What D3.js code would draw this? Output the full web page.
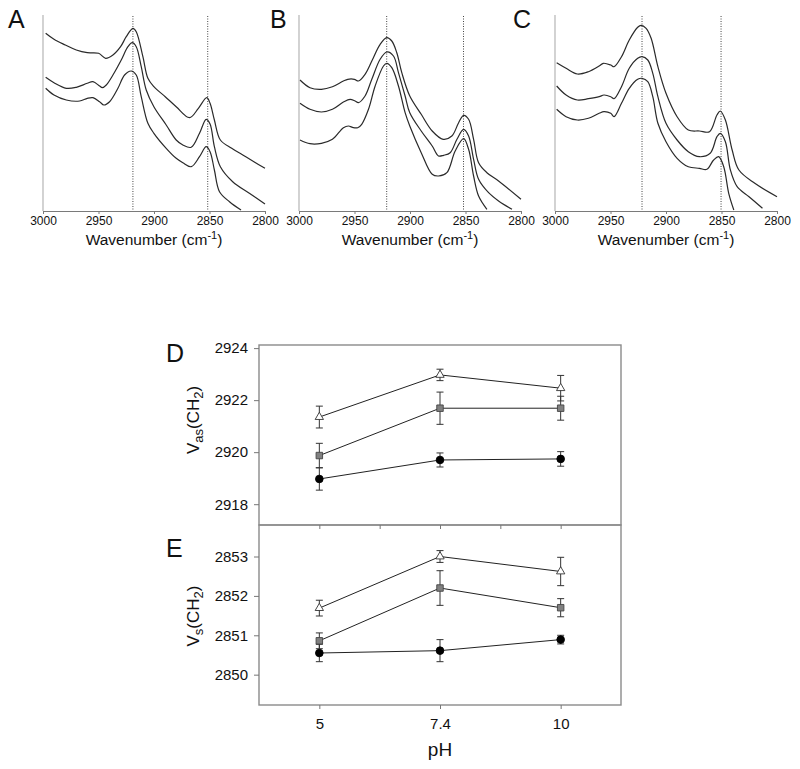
<!DOCTYPE html>
<html><head><meta charset="utf-8">
<script src="https://cdn.jsdelivr.net/npm/d3@7"></script>
<style>
body{margin:0;background:#fff}
svg{display:block}
text{font-family:"Liberation Sans",Arial,sans-serif;fill:#111}
</style>
</head><body>
<svg id="c" width="800" height="769"></svg>
<script>
// ---------- DATA ----------
const panelLetters = ["A", "B", "C"];
const wnTicks = [3000, 2950, 2900, 2850, 2800];

// IR spectra: [wavenumber (cm-1), absorbance (a.u.)]
const specA1 = [[2997.6,177.7],[2990.1,171.7],[2979.9,166],[2970,161],[2960.1,158.3],[2949.9,157.7],[2943.6,152.7],[2937,156],[2930.1,164.3],[2925,174.3],[2919,182.7],[2916,179.3],[2910,154.3],[2905.5,132.7],[2900.1,124.3],[2889.9,114.3],[2880,104.3],[2868,93.3],[2860,102.7],[2852.5,113.3],[2849.5,107.7],[2845.6,91],[2840.2,71],[2830,62.7],[2820,56],[2810,49.3],[2800,42.7]];
const specA2 = [[2997.6,133.7],[2990.1,128.3],[2979,122.7],[2970,123.7],[2960.1,127.7],[2955,129.3],[2949,125],[2946.6,123.3],[2943,126],[2937,136],[2929.5,151],[2923.5,164.3],[2919.6,168.3],[2916,164.3],[2911.5,144.3],[2907,121],[2900.1,104.3],[2889,86],[2880,71],[2874,66],[2866.5,63.7],[2859,77.7],[2853,91.7],[2849.5,87],[2845.6,64.3],[2840.2,44.3],[2829.1,29.3],[2814.1,17.7],[2800,7]];
const specA3 = [[2997.6,122.7],[2990.1,116],[2979,111],[2967,110],[2960.1,112.7],[2955,113.3],[2949,109.3],[2945.1,106],[2940,109.3],[2932.5,122.7],[2926.5,136],[2920.5,140],[2916,136],[2911.5,114.3],[2905.5,87.7],[2900.1,77.7],[2889,62.7],[2880,52.7],[2874,48.3],[2866.5,44.3],[2859,54.3],[2853,64.3],[2849.5,59.3],[2845.6,41],[2841,19.3],[2832,9.3],[2821.6,1]];

const specB1 = [[2999.1,131],[2990.1,123.3],[2979.8,121.7],[2969.9,124.3],[2960,130],[2956.1,131.7],[2950.1,131.7],[2946.5,130],[2940.5,136.7],[2934.4,150],[2926.9,166.7],[2920.9,173.3],[2916.4,170],[2911.9,158.3],[2907.4,138.3],[2900.2,115],[2889.9,96.7],[2880,80],[2870.1,71.7],[2862.3,75],[2856.2,88.3],[2851.7,95.7],[2847.2,91.7],[2842.7,71.7],[2838.2,48.3],[2830.7,38.3],[2820.2,30],[2800,11.7]];
const specB2 = [[2999.1,107.7],[2990.1,101.7],[2979.8,99],[2969.9,101.7],[2960,109],[2954,111.7],[2949.5,110],[2946.5,108.3],[2940.5,115],[2934.4,131.7],[2926.9,151.7],[2920.9,159],[2914.9,155],[2910.4,138.3],[2904.4,115],[2900.2,98.3],[2889.9,80],[2880,65],[2874.3,55],[2869.8,55.7],[2863.8,58.3],[2857.7,71.7],[2851.7,81.7],[2847.2,75],[2842.7,51.7],[2838.2,31.7],[2829.2,18.3],[2820.2,10],[2808.1,1.7]];
const specB3 = [[2999.1,71],[2990.1,67.3],[2979.8,67.7],[2969.9,71.7],[2960,83.3],[2955.5,85],[2951,83.3],[2947.1,83.3],[2943.5,86.7],[2937.4,101.7],[2931.4,125],[2923.9,145],[2920.9,147.7],[2916.4,143.3],[2910.4,125],[2904.4,98.3],[2900.2,85],[2889.9,58.3],[2880,36.7],[2874.3,35],[2866.8,38.3],[2859.3,60],[2851.7,72.3],[2847.2,61.7],[2842.7,35],[2838.2,15],[2830.7,1.7]];

const specC1 = [[2998.5,148.3],[2990,142.7],[2979.9,137],[2969.9,139.3],[2960.2,145],[2956.5,147.7],[2949.8,146],[2946.8,144.3],[2940.1,154.3],[2933.1,171],[2925.5,183.7],[2922.5,185.7],[2917.9,182.7],[2913.4,172.7],[2907.3,144.3],[2900,117.7],[2890,94.3],[2879.9,81],[2869.9,80],[2860.8,79.3],[2854.1,96],[2851.1,100],[2846.5,91],[2840.4,61],[2834.3,41],[2820,27.7],[2800,14.3]];
const specC2 = [[2998.5,125],[2990,116],[2979.9,111],[2969.9,112.3],[2960.2,114.3],[2955.9,116],[2949.8,114.3],[2946.8,112.3],[2940.1,124.3],[2933.1,142.7],[2925.5,152.7],[2921.6,154.3],[2916.4,151],[2911.9,137.7],[2907.3,114.3],[2900,87.7],[2890,71],[2879.9,59.3],[2869.9,54.3],[2860.2,57.7],[2854.1,74.3],[2851.1,77.7],[2846.5,69.3],[2842,41],[2835.9,24.3],[2825.2,14.3],[2813.1,2.7]];
const specC3 = [[2998.5,101.7],[2990,94.3],[2979.9,91],[2969.9,92.7],[2960.2,97.7],[2955.9,99.3],[2949.8,97.7],[2946.8,94.3],[2940.1,107.7],[2933.1,122.7],[2925.5,131.7],[2921.6,132.7],[2916.4,129.3],[2911.9,114.3],[2907.3,87.7],[2900,69.3],[2890,52.7],[2879.9,44.3],[2869.9,42.7],[2863.2,41.7],[2857.1,51],[2852.6,54.3],[2848,44.3],[2843.5,17.7],[2838.9,1]];

// reference (dotted) wavenumbers per panel
const refA = [2919, 2851.6];
const refB = [2921, 2851.8];
const refC = [2921.6, 2850.4];

// Panels D / E
const phLabels = ["5", "7.4", "10"];
const vasTicks = [2918, 2920, 2922, 2924];
const vsTicks = [2850, 2851, 2852, 2853];
const vasTri = [2921.35, 2922.97, 2922.46];
const vasTriErr = [0.42, 0.22, 0.49];
const vasSq = [2919.87, 2921.69, 2921.69];
const vasSqErr = [0.47, 0.62, 0.46];
const vasCir = [2918.97, 2919.70, 2919.74];
const vasCirErr = [0.43, 0.27, 0.28];
const vsTri = [2851.69, 2853.00, 2852.62];
const vsTriErr = [0.20, 0.15, 0.36];
const vsSq = [2850.86, 2852.20, 2851.70];
const vsSqErr = [0.20, 0.44, 0.23];
const vsCir = [2850.55, 2850.61, 2850.89];
const vsCirErr = [0.22, 0.28, 0.11];

// ---------- DRAW ----------
const svg = d3.select("#c");

const spectra = [
  {letter: panelLetters[0], curves: [specA1, specA2, specA3], refs: refA, lx: 8},
  {letter: panelLetters[1], curves: [specB1, specB2, specB3], refs: refB, lx: 270},
  {letter: panelLetters[2], curves: [specC1, specC2, specC3], refs: refC, lx: 513}
];

const yS = d3.scaleLinear().domain([0, 196]).range([211, 15]);

spectra.forEach((p, i) => {
  const left = 43 + 256 * i;
  const x = d3.scaleLinear().domain([3000, 2800]).range([left, left + 222]);
  const g = svg.append("g");

  // left axis line
  g.append("line").attr("x1", left).attr("x2", left).attr("y1", 15).attr("y2", 211)
    .attr("stroke", "#b5b5b5").attr("stroke-width", 1.2);

  // dotted reference lines
  g.selectAll("line.ref").data(p.refs).enter().append("line")
    .attr("x1", d => x(d)).attr("x2", d => x(d)).attr("y1", 16).attr("y2", 211)
    .attr("stroke", "#444").attr("stroke-width", 1).attr("stroke-dasharray", "1,1.5");

  // curves
  const line = d3.line().x(d => x(d[0])).y(d => yS(d[1])).curve(d3.curveCatmullRom.alpha(0.5));
  g.selectAll("path.sp").data(p.curves).enter().append("path")
    .attr("d", line).attr("fill", "none").attr("stroke", "#2a2a2a").attr("stroke-width", 1.2);

  // bottom axis
  const ax = g.append("g").attr("transform", "translate(0,211)")
    .call(d3.axisBottom(x).tickValues(wnTicks).tickSize(3).tickSizeOuter(0).tickPadding(2).tickFormat(d3.format("d")));
  ax.select(".domain").attr("stroke", "#7a7a7a").attr("stroke-width", 1.2);
  ax.selectAll(".tick line").attr("stroke", "#7a7a7a");
  ax.selectAll("text").style("font-size", "12px").attr("fill", "#111");

  // axis title
  const t = g.append("text").attr("x", left + 111).attr("y", 245).attr("text-anchor", "middle")
    .style("font-size", "15.5px");
  t.append("tspan").text("Wavenumber (cm");
  t.append("tspan").attr("dy", -6).style("font-size", "11px").text("-1");
  t.append("tspan").attr("dy", 6).text(")");

  // panel letter
  g.append("text").attr("x", p.lx).attr("y", 28).style("font-size", "25px").text(p.letter);
});

// ---- D & E ----
const xP = d3.scaleLinear().domain([-0.5, 2.5]).range([259, 621]);
const yD = d3.scaleLinear().domain([2917.2, 2924.12]).range([525, 345]);
const yE = d3.scaleLinear().domain([2849.23, 2853.8]).range([705, 525]);

function drawPanel(y, ticks, series, letter, letterY, labSub, labY) {
  const g = svg.append("g");
  const [y0, y1] = y.range();
  g.append("rect").attr("x", 259).attr("y", y1).attr("width", 362).attr("height", y0 - y1)
    .attr("fill", "none").attr("stroke", "#8a8a8a").attr("stroke-width", 1.4);

  const ay = g.append("g").attr("transform", "translate(259,0)")
    .call(d3.axisLeft(y).tickValues(ticks).tickSize(5).tickSizeOuter(0).tickPadding(6).tickFormat(d3.format("d")));
  ay.select(".domain").remove();
  ay.selectAll(".tick line").attr("stroke", "#777");
  ay.selectAll("text").style("font-size", "15px").attr("fill", "#111");

  series.forEach(s => {
    const pts = s.vals.map((v, i) => ({i, v, e: s.err[i]}));
    // error bars
    const eb = g.append("g").attr("stroke", "#333").attr("stroke-width", 1);
    pts.forEach(p => {
      const cx = xP(p.i);
      eb.append("line").attr("x1", cx).attr("x2", cx).attr("y1", y(p.v - p.e)).attr("y2", y(p.v + p.e));
      eb.append("line").attr("x1", cx - 3.5).attr("x2", cx + 3.5).attr("y1", y(p.v + p.e)).attr("y2", y(p.v + p.e));
      eb.append("line").attr("x1", cx - 3.5).attr("x2", cx + 3.5).attr("y1", y(p.v - p.e)).attr("y2", y(p.v - p.e));
    });
    g.append("path").datum(pts)
      .attr("d", d3.line().x(d => xP(d.i)).y(d => y(d.v)))
      .attr("fill", "none").attr("stroke", "#222").attr("stroke-width", 1);
    const sym = d3.symbol().type(s.type).size(s.size);
    g.selectAll(null).data(pts).enter().append("path")
      .attr("d", sym).attr("transform", d => `translate(${xP(d.i)},${y(d.v)})`)
      .attr("fill", s.fill).attr("stroke", s.stroke).attr("stroke-width", 0.9);
  });

  g.append("text").attr("x", 166).attr("y", letterY).style("font-size", "25px").text(letter);

  const lab = g.append("text").attr("transform", `translate(199,${labY}) rotate(-90)`)
    .attr("text-anchor", "middle").style("font-size", "17px");
  lab.append("tspan").text("V");
  lab.append("tspan").attr("dy", 4).style("font-size", "13px").text(labSub);
  lab.append("tspan").attr("dy", -4).text("(CH");
  lab.append("tspan").attr("dy", 4).style("font-size", "13px").text("2");
  lab.append("tspan").attr("dy", -4).text(")");
}

drawPanel(yD, vasTicks, [
  {vals: vasCir, err: vasCirErr, type: d3.symbolCircle, size: 46, fill: "#000", stroke: "#000"},
  {vals: vasSq, err: vasSqErr, type: d3.symbolSquare, size: 42, fill: "#808080", stroke: "#444"},
  {vals: vasTri, err: vasTriErr, type: d3.symbolTriangle, size: 30, fill: "#fff", stroke: "#333"}
], "D", 362, "as", 420);

drawPanel(yE, vsTicks, [
  {vals: vsCir, err: vsCirErr, type: d3.symbolCircle, size: 46, fill: "#000", stroke: "#000"},
  {vals: vsSq, err: vsSqErr, type: d3.symbolSquare, size: 42, fill: "#808080", stroke: "#444"},
  {vals: vsTri, err: vsTriErr, type: d3.symbolTriangle, size: 30, fill: "#fff", stroke: "#333"}
], "E", 557, "s", 616);

// x ticks on D bottom (shared line) with minor ticks
const axD = svg.append("g").attr("transform", "translate(0,525)")
  .call(d3.axisBottom(xP).tickValues([0, 0.5, 1, 1.5, 2]).tickSize(4).tickSizeOuter(0).tickFormat(""));
axD.select(".domain").remove();
axD.selectAll(".tick line").attr("stroke", "#777");

// x axis on E bottom
const axE = svg.append("g").attr("transform", "translate(0,705)")
  .call(d3.axisBottom(xP).tickValues([0, 1, 2]).tickSize(4).tickSizeOuter(0).tickPadding(9)
    .tickFormat(i => phLabels[i]));
axE.select(".domain").remove();
axE.selectAll(".tick line").attr("stroke", "#777");
axE.selectAll("text").style("font-size", "15px").attr("fill", "#111");

svg.append("text").attr("x", xP(1)).attr("y", 756).attr("text-anchor", "middle")
  .style("font-size", "19px").text("pH");
</script>
</body></html>
